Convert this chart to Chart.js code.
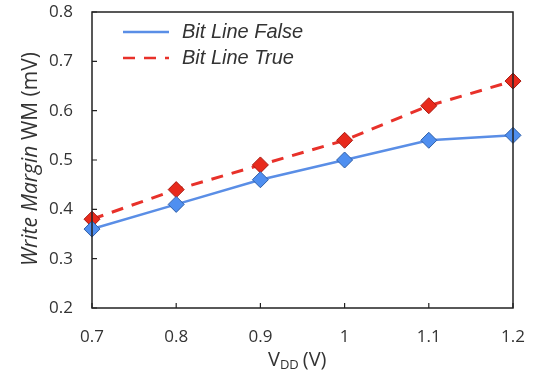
<!DOCTYPE html>
<html>
<head>
<meta charset="utf-8">
<script src="https://cdn.jsdelivr.net/npm/chart.js@4/dist/chart.umd.min.js"></script>
<style>
  html, body { margin: 0; padding: 0; background: #fff; }
  #wrap { width: 535px; height: 374px; }
</style>
</head>
<body>
<div id="wrap"><canvas id="wm"></canvas></div>
<script>
// values
const vdd = [0.7, 0.8, 0.9, 1, 1.1, 1.2]
const bitLineFalse = [0.36, 0.41, 0.46, 0.50, 0.54, 0.55]
const bitLineTrue = [0.38, 0.44, 0.49, 0.54, 0.61, 0.66]
const yTicks = [0.2, 0.3, 0.4, 0.5, 0.6, 0.7, 0.8]
const seriesNames = ['Bit Line False', 'Bit Line True']

const tickFont = { family: 'Open Sans', size: 17 }

// box round the plot, inward tick marks, legend and the two axis titles
const decorations = {
    id: 'decorations',
    afterDraw(chart) {
        const c = chart.ctx
        const a = chart.chartArea
        const xs = chart.scales.x
        const ys = chart.scales.y
        c.save()
        c.strokeStyle = '#222'
        c.lineWidth = 1.5
        c.strokeRect(a.left, a.top, a.right - a.left, a.bottom - a.top)
        c.lineWidth = 1.2
        c.beginPath()
        vdd.forEach(v => {
            const px = xs.getPixelForValue(v)
            c.moveTo(px, a.bottom)
            c.lineTo(px, a.bottom - 5)
        })
        yTicks.forEach(v => {
            const py = ys.getPixelForValue(v)
            c.moveTo(a.left, py)
            c.lineTo(a.left + 5, py)
        })
        c.stroke()

        // legend
        const items = chart.data.datasets
        items.forEach((ds, i) => {
            const ly = 32 + i * 26
            c.strokeStyle = ds.borderColor
            c.lineWidth = 2.5
            c.setLineDash(ds.borderDash || [])
            c.beginPath()
            c.moveTo(123, ly)
            c.lineTo(169, ly)
            c.stroke()
            c.setLineDash([])
            c.fillStyle = '#333'
            c.font = 'italic 20px "Liberation Sans"'
            c.textBaseline = 'middle'
            c.textAlign = 'left'
            c.fillText(seriesNames[i], 182, ly)
        })

        // x title: V_DD (V)
        c.fillStyle = '#333'
        c.textBaseline = 'alphabetic'
        c.textAlign = 'left'
        c.font = '20px "Open Sans"'
        let x = 268
        const by = 366
        c.fillText('V', x, by)
        x += c.measureText('V').width
        c.font = '13px "Open Sans"'
        c.fillText('DD', x, by + 3)
        x += c.measureText('DD').width + 4
        c.font = '20px "Open Sans"'
        c.fillText('(V)', x, by)

        // y title: Write Margin WM (mV)
        c.translate(37, 159)
        c.rotate(-Math.PI / 2)
        const p1 = 'Write Margin'
        const p2 = ' WM (mV)'
        c.font = '21px "Open Sans"'
        const w2 = c.measureText(p2).width
        c.font = 'italic 21px "Open Sans"'
        const w1 = c.measureText(p1).width
        const tx = -(w1 + w2) / 2
        c.fillText(p1, tx, 0)
        c.font = '21px "Open Sans"'
        c.fillText(p2, tx + w1, 0)
        c.restore()
    }
}

new Chart(document.getElementById('wm'), {
    type: 'line',
    data: {
        datasets: [{
            label: seriesNames[0],
            data: vdd.map((v, i) => ({ x: v, y: bitLineFalse[i] })),
            borderColor: '#5a8ee6',
            borderWidth: 2.5,
            pointStyle: 'rectRot',
            pointRadius: 8,
            pointBackgroundColor: '#4f8ff0',
            pointBorderColor: '#2f5fa8',
            pointBorderWidth: 1,
            tension: 0
        }, {
            label: seriesNames[1],
            data: vdd.map((v, i) => ({ x: v, y: bitLineTrue[i] })),
            borderColor: '#e8312a',
            borderWidth: 3,
            borderDash: [12, 9],
            pointStyle: 'rectRot',
            pointRadius: 8,
            pointBackgroundColor: '#e82a1c',
            pointBorderColor: '#a8180f',
            pointBorderWidth: 1,
            tension: 0
        }]
    },
    options: {
        responsive: true,
        maintainAspectRatio: false,
        animation: false,
        clip: false,
        layout: { autoPadding: false, padding: { top: 12, right: 22, left: 0, bottom: 0 } },
        plugins: { legend: { display: false }, tooltip: { enabled: false } },
        scales: {
            x: {
                type: 'linear',
                min: 0.7,
                max: 1.2,
                afterBuildTicks: s => { s.ticks = vdd.map(v => ({ value: v })) },
                afterFit: s => { s.height = 66; s.paddingLeft = 0; s.paddingRight = 0 },
                grid: { display: false, drawTicks: false },
                border: { display: false },
                ticks: { font: tickFont, color: '#333', padding: 19, callback: v => String(v) }
            },
            y: {
                min: 0.2,
                max: 0.8,
                afterBuildTicks: s => { s.ticks = yTicks.map(v => ({ value: v })) },
                afterFit: s => { s.width = 92; s.paddingTop = 0; s.paddingBottom = 0 },
                grid: { display: false, drawTicks: false },
                border: { display: false },
                ticks: { font: tickFont, color: '#333', padding: 19, callback: v => v.toFixed(1) }
            }
        }
    },
    plugins: [decorations]
})
</script>
</body>
</html>
